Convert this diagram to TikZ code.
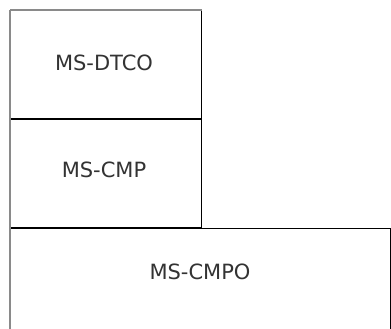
\documentclass[tikz,border=0pt]{standalone}
\usepackage{fontspec}
\setmainfont{DejaVu Sans}
\usetikzlibrary{positioning}
\definecolor{EdgeGray}{HTML}{8A8A8A}
\definecolor{TextGray}{HTML}{333333}
\tikzset{
  layer/.style={draw=black,fill=white,line width=1pt,inner sep=0pt},
  tag/.style={font=\fontsize{21}{24}\selectfont,text=TextGray},
  shade/.style={EdgeGray,line width=2.5pt}
}
\begin{document}
\begin{tikzpicture}[x=1pt,y=-1pt]
  \clip (0,0) rectangle (391,329);
  \fill[white] (0,0) rectangle (391,329);
  % stacked protocol layers
  \node[layer,minimum width=191pt,minimum height=108pt,anchor=north west] (dtco) at (10,10) {};
  \node[layer,minimum width=191pt,minimum height=108pt,anchor=north] (cmp) at (dtco.south) {};
  \node[layer,minimum width=380pt,minimum height=120pt,anchor=north west] (cmpo) at (cmp.south west) {};
  \node[tag] (dtcotag) at (104,63) {MS-DTCO};
  \node[tag] (cmptag) at (104,170) {MS-CMP};
  \node[tag] (cmpotag) at (200,272) {MS-CMPO};
  \draw[shade] (dtco.north west) -- (cmpo.south west);
  \draw[shade] (dtco.north west) -- (dtco.north east);
\end{tikzpicture}
\end{document}
